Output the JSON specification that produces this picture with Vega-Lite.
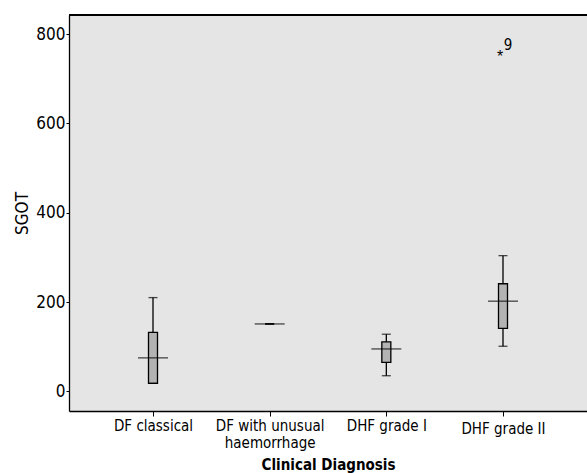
{
  "$schema": "https://vega.github.io/schema/vega-lite/v6.json",
  "autosize": "none",
  "width": 518,
  "height": 396,
  "padding": {"left": 69, "top": 15, "right": 0, "bottom": 62},
  "background": "white",
  "view": {"fill": "#e5e5e5", "stroke": null, "strokeOpacity": 0},
  "config": {
    "view": {"fill": "#e5e5e5", "stroke": null, "strokeOpacity": 0},
    "font": "Arial Narrow, Liberation Sans Narrow, DejaVu Sans Condensed, Liberation Sans",
    "axis": {"labelFont": "Arial Narrow, Liberation Sans Narrow, DejaVu Sans Condensed, Liberation Sans", "titleFont": "Arial Narrow, Liberation Sans Narrow, DejaVu Sans Condensed, Liberation Sans", "labelColor": "black", "titleColor": "black", "domainColor": "black", "tickColor": "black", "grid": false}
  },
  "data": {
    "values": [
      {"diag": "DF classical", "min": 18, "q1": 18, "median": 75, "q3": 132, "max": 210},
      {"diag": "DF with unusual haemorrhage", "min": 151, "q1": 151, "median": 151, "q3": 151, "max": 151},
      {"diag": "DHF grade I", "min": 35, "q1": 65, "median": 95, "q3": 111, "max": 128},
      {"diag": "DHF grade II", "min": 101, "q1": 141, "median": 202, "q3": 241, "max": 304}
    ]
  },
  "encoding": {
    "x": {
      "field": "diag", "type": "nominal",
      "sort": ["DF classical", "DF with unusual haemorrhage", "DHF grade I", "DHF grade II"],
      "scale": {"type": "point", "padding": 0.72},
      "axis": {
        "title": "Clinical Diagnosis", "titleFontSize": 15, "titleFontWeight": "bold", "titlePadding": 7,
        "labelFontSize": 15, "labelAngle": 0, "tickSize": 5, "domainWidth": 1.3,
        "labelPadding": {"condition": {"test": "datum.value == 'DHF grade II'", "value": 5}, "value": 2},
        "labelLineHeight": 17,
        "labelExpr": "datum.value == 'DF with unusual haemorrhage' ? ['DF with unusual', 'haemorrhage'] : datum.label"
      }
    }
  },
  "layer": [
    {
      "mark": {"type": "rule", "color": "black", "strokeWidth": 1.3},
      "encoding": {
        "y": {"field": "min", "type": "quantitative", "scale": {"domain": [-44, 843], "nice": false, "zero": false},
          "axis": {"title": "SGOT", "titleFontSize": 17, "titleFontWeight": "normal", "labelFontSize": 17, "values": [0, 200, 400, 600, 800], "tickSize": 3, "labelPadding": 1, "titlePadding": 4, "domainWidth": 1.3}},
        "y2": {"field": "max"}
      }
    },
    {
      "mark": {"type": "rule", "color": "black", "strokeWidth": 1.3},
      "encoding": {"x": {"value": 0}, "x2": {"value": 518}, "y": {"datum": 843, "type": "quantitative"}}
    },
    {
      "mark": {"type": "bar", "width": 9, "fill": "#b3b3b3", "stroke": "black", "strokeWidth": 1.3},
      "encoding": {"y": {"field": "q1", "type": "quantitative"}, "y2": {"field": "q3"}}
    },
    {
      "mark": {"type": "tick", "color": "black", "size": 9, "thickness": 1.3},
      "encoding": {"y": {"field": "min", "type": "quantitative"}}
    },
    {
      "mark": {"type": "tick", "color": "black", "size": 9, "thickness": 1.3},
      "encoding": {"y": {"field": "max", "type": "quantitative"}}
    },
    {
      "mark": {"type": "tick", "color": "black", "size": 30, "thickness": 1.3},
      "encoding": {"y": {"field": "median", "type": "quantitative"}}
    },
    {
      "data": {"values": [{"diag": "DHF grade II", "value": 760, "case": "9"}]},
      "mark": {"type": "text", "text": "*", "fontSize": 16, "dx": -3, "dy": 5, "color": "black", "font": "Liberation Sans"},
      "encoding": {"y": {"field": "value", "type": "quantitative"}}
    },
    {
      "data": {"values": [{"diag": "DHF grade II", "value": 760, "case": "9"}]},
      "mark": {"type": "text", "fontSize": 15, "dx": 5, "dy": -7, "color": "black", "align": "center"},
      "encoding": {"y": {"field": "value", "type": "quantitative"}, "text": {"field": "case"}}
    }
  ]
}
